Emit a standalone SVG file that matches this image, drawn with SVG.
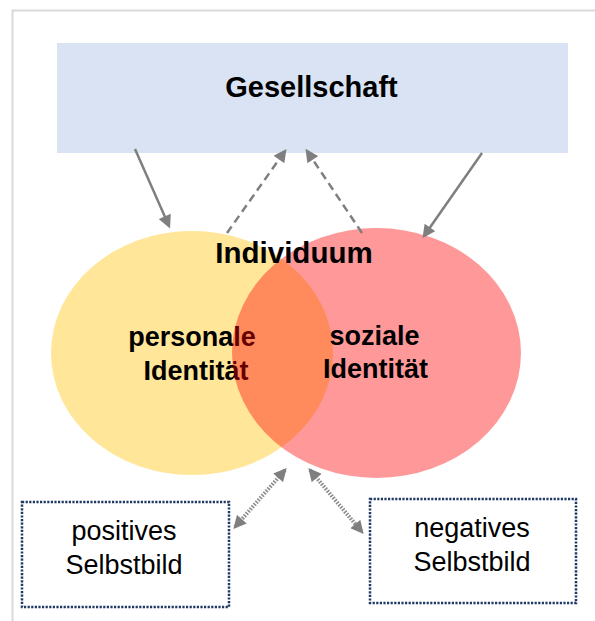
<svg xmlns="http://www.w3.org/2000/svg" width="595" height="621" viewBox="0 0 595 621">
<style>
.t{font-family:"Liberation Sans",Arial,sans-serif;fill:#000;text-anchor:middle}
.b{font-weight:bold}
.c{stroke:#7f7f7f;fill:none;stroke-width:2.5}
.dash{stroke-dasharray:8 5}
.dot{stroke:#8c8c8c;stroke-width:4;stroke-dasharray:1.6 1.4}
.box{fill:#fff;stroke:#1f3864;stroke-width:2.5;stroke-dasharray:2.2 1.4}
</style>
<defs>
<marker id="ah" viewBox="0 0 10 10" refX="8" refY="5" markerWidth="14" markerHeight="13" markerUnits="userSpaceOnUse" orient="auto-start-reverse">
<path d="M0,0 L10,5 L0,10 z" fill="#7f7f7f"/>
</marker>
</defs>
<rect x="12.5" y="10.5" width="600" height="620" fill="#fff" stroke="#d9d9d9" stroke-width="2"/>
<g id="gesellschaft">
<rect x="57" y="43" width="511" height="110" fill="#dae3f3"/>
<text class="t b" x="311.5" y="96.5" font-size="29">Gesellschaft</text>
</g>
<g id="personale">
<ellipse cx="192" cy="353" rx="141" ry="122" fill="#ffe699"/>
<text class="t b" x="192" y="346" font-size="27">personale</text>
<text class="t b" x="196" y="380" font-size="27">Identität</text>
</g>
<g id="soziale">
<ellipse cx="376.5" cy="353" rx="144.5" ry="125" fill="#ff0000" fill-opacity="0.4"/>
<text class="t b" x="374.5" y="345" font-size="27">soziale</text>
<text class="t b" x="375.5" y="378" font-size="27">Identität</text>
</g>
<g id="individuum">
<text class="t b" x="294" y="263.3" font-size="29.5">Individuum</text>
</g>
<g id="positives">
<rect class="box" x="22" y="502" width="207" height="105"/>
<text class="t" x="124" y="540" font-size="27">positives</text>
<text class="t" x="124" y="574" font-size="27">Selbstbild</text>
</g>
<g id="negatives">
<rect class="box" x="370" y="499" width="206" height="104"/>
<text class="t" x="472" y="537" font-size="27">negatives</text>
<text class="t" x="472" y="571" font-size="27">Selbstbild</text>
</g>
<g id="connectors">
<line class="c" x1="135" y1="149" x2="169" y2="226" marker-end="url(#ah)"/>
<line class="c" x1="482" y1="153" x2="424" y2="236" marker-end="url(#ah)"/>
<line class="c dash" x1="227" y1="233" x2="285" y2="151" marker-end="url(#ah)"/>
<line class="c dash" x1="362" y1="233" x2="307" y2="151" marker-end="url(#ah)"/>
<line class="c dot" x1="285" y1="470" x2="235" y2="527" marker-start="url(#ah)" marker-end="url(#ah)"/>
<line class="c dot" x1="310" y1="470" x2="362" y2="532" marker-start="url(#ah)" marker-end="url(#ah)"/>
</g>
</svg>
